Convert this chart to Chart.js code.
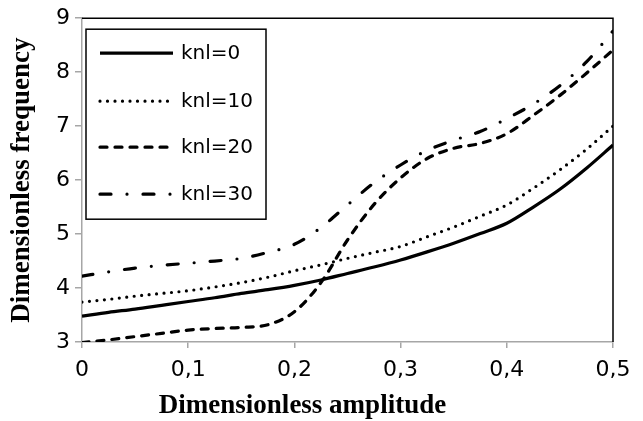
<!DOCTYPE html>
<html>
<head>
<meta charset="utf-8">
<script src="https://cdn.jsdelivr.net/npm/chart.js@4.4.1/dist/chart.umd.min.js"></script>
<style>
  html, body { margin: 0; padding: 0; background: #fff; }
  #wrap { position: relative; width: 643px; height: 421px; }
</style>
</head>
<body>
<div id="wrap"><canvas id="c"></canvas></div>
<script>
// ---- data ----
const xValues = [0, 0.025, 0.05, 0.075, 0.1, 0.125, 0.15, 0.175, 0.2, 0.225, 0.25,
                 0.275, 0.3, 0.325, 0.35, 0.375, 0.4, 0.425, 0.45, 0.475, 0.5];
const knl0  = [3.48, 3.55, 3.61, 3.68, 3.75, 3.82, 3.90, 3.97, 4.05, 4.15, 4.27,
               4.39, 4.52, 4.67, 4.83, 5.01, 5.20, 5.50, 5.83, 6.22, 6.65];
const knl10 = [3.74, 3.79, 3.85, 3.90, 3.95, 4.02, 4.10, 4.20, 4.32, 4.43, 4.55,
               4.66, 4.77, 4.95, 5.13, 5.33, 5.54, 5.85, 6.19, 6.57, 7.00];
const knl20 = [2.99, 3.04, 3.10, 3.16, 3.22, 3.25, 3.27, 3.32, 3.56, 4.10, 4.89,
               5.55, 6.04, 6.40, 6.59, 6.68, 6.86, 7.20, 7.57, 7.98, 8.41];
const knl30 = [4.22, 4.30, 4.37, 4.42, 4.46, 4.50, 4.55, 4.66, 4.81, 5.12, 5.54,
               5.95, 6.28, 6.55, 6.74, 6.90, 7.14, 7.41, 7.75, 8.19, 8.76];
const seriesLabels = ['knl=0', 'knl=10', 'knl=20', 'knl=30'];
const xTickLabels = ['0', '0,1', '0,2', '0,3', '0,4', '0,5'];
const yTickLabels = ['3', '4', '5', '6', '7', '8', '9'];
const xTitle = 'Dimensionless amplitude';
const yTitle = 'Dimensionless frequency';

const toPts = ys => xValues.map((x, i) => ({ x: x, y: ys[i] }));

const styles = [
  { borderDash: [], cap: 'butt' },
  { borderDash: [0, 7.5], cap: 'round' },
  { borderDash: [7, 8], cap: 'round' },
  { borderDash: [11, 16, 0, 16], cap: 'round' }
];
const seriesData = [knl0, knl10, knl20, knl30];

const datasets = seriesData.map((ys, i) => ({
  label: seriesLabels[i],
  data: toPts(ys),
  borderColor: '#000',
  backgroundColor: '#000',
  borderWidth: 3.2,
  borderDash: styles[i].borderDash,
  borderCapStyle: styles[i].cap,
  pointRadius: 0,
  fill: false,
  cubicInterpolationMode: 'monotone'
}));

const axisGray = '#a6a6a6';

const frameAndLegend = {
  id: 'frameAndLegend',
  afterDraw(chart) {
    const { ctx, chartArea: a } = chart;
    ctx.save();
    // top & right frame
    ctx.strokeStyle = '#000';
    ctx.lineWidth = 1.5;
    ctx.setLineDash([]);
    ctx.beginPath();
    ctx.moveTo(a.left, a.top);
    ctx.lineTo(a.right, a.top);
    ctx.lineTo(a.right, a.bottom);
    ctx.stroke();

    // legend
    const bx = a.left + 4, by = a.top + 11, bw = 180, bh = 190;
    ctx.fillStyle = '#fff';
    ctx.fillRect(bx, by, bw, bh);
    ctx.strokeStyle = '#000';
    ctx.lineWidth = 1.5;
    ctx.strokeRect(bx, by, bw, bh);
    const rowY = [24, 72, 118, 165];
    chart.data.datasets.forEach((ds, i) => {
      const y = by + rowY[i];
      ctx.save();
      ctx.strokeStyle = ds.borderColor;
      ctx.lineWidth = ds.borderWidth;
      ctx.lineCap = ds.borderCapStyle;
      ctx.setLineDash(ds.borderDash);
      ctx.beginPath();
      ctx.moveTo(bx + 14, y);
      ctx.lineTo(bx + 87, y);
      ctx.stroke();
      ctx.restore();
      ctx.fillStyle = '#000';
      ctx.font = '20px "DejaVu Sans"';
      ctx.textAlign = 'left';
      ctx.textBaseline = 'middle';
      ctx.fillText(ds.label, bx + 95, y + 1);
    });
    ctx.restore();
  }
};

new Chart(document.getElementById('c'), {
  type: 'line',
  data: { datasets: datasets },
  plugins: [frameAndLegend],
  options: {
    responsive: true,
    maintainAspectRatio: false,
    animation: false,
    devicePixelRatio: 1,
    layout: { padding: { left: -8, right: 30, top: 18, bottom: 0 } },
    plugins: {
      legend: { display: false },
      tooltip: { enabled: false },
      title: {
        display: true,
        position: 'bottom',
        text: xTitle,
        color: '#000',
        font: { family: 'Liberation Serif', size: 27, weight: 'bold', lineHeight: 1 },
        padding: { top: 0, bottom: 1 }
      }
    },
    scales: {
      x: {
        type: 'linear',
        min: 0,
        max: 0.5,
        afterFit(scale) { scale.height = 51; },
        afterBuildTicks(scale) {
          scale.ticks = xTickLabels.map((t, i) => ({ value: i * 0.1 }));
        },
        ticks: {
          callback: (v, i) => xTickLabels[i],
          color: '#000',
          font: { family: 'DejaVu Sans', size: 22 },
          padding: 9,
          maxRotation: 0,
          autoSkip: false
        },
        grid: { drawOnChartArea: false, drawTicks: true, tickLength: 6, color: axisGray, lineWidth: 1.5 },
        border: { color: axisGray, width: 1.5 }
      },
      y: {
        type: 'linear',
        min: 3,
        max: 9,
        afterFit(scale) { scale.width = 90; },
        afterBuildTicks(scale) {
          scale.ticks = yTickLabels.map(t => ({ value: Number(t) }));
        },
        ticks: {
          callback: (v, i) => yTickLabels[i],
          color: '#000',
          font: { family: 'DejaVu Sans', size: 22 },
          padding: 5,
          autoSkip: false
        },
        grid: { drawOnChartArea: false, drawTicks: true, tickLength: 7, color: axisGray, lineWidth: 1.5 },
        border: { color: axisGray, width: 1.5 },
        title: {
          display: true,
          text: yTitle,
          color: '#000',
          font: { family: 'Liberation Serif', size: 27, weight: 'bold', lineHeight: 1 },
          padding: { top: 17, bottom: 0 }
        }
      }
    }
  }
});
</script>
</body>
</html>
